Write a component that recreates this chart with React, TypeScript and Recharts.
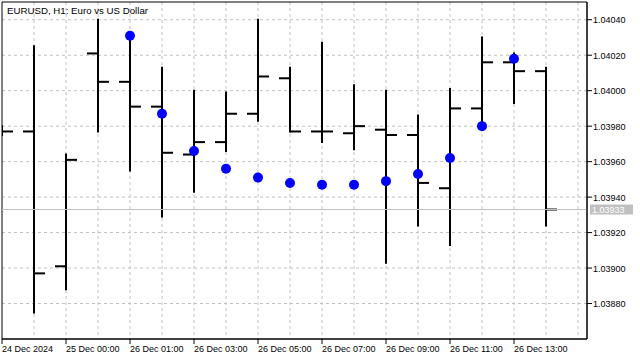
import { Bar, CartesianGrid, ComposedChart, Line, ReferenceArea, ReferenceLine, XAxis, YAxis } from "recharts"

// EURUSD H1 bars
const opens = [1.03977, 1.03977, 1.03901, 1.04021, 1.04005, 1.03991, 1.03964, 1.03971, 1.03987, 1.04007, 1.03977, 1.03976, 1.03978, 1.03975, 1.03945, 1.0399, 1.04016, 1.04011]
const highs = [1.0398, 1.04025, 1.03964, 1.0404, 1.04031, 1.04013, 1.04, 1.03999, 1.0404, 1.04013, 1.04027, 1.04003, 1.04, 1.03986, 1.04001, 1.0403, 1.04021, 1.04013]
const lows = [1.03975, 1.03875, 1.03888, 1.03977, 1.03955, 1.03929, 1.03943, 1.03966, 1.03983, 1.03977, 1.03971, 1.03967, 1.03903, 1.03924, 1.03913, 1.0398, 1.03993, 1.03924]
const closes = [1.03977, 1.03897, 1.03961, 1.04005, 1.03991, 1.03965, 1.03971, 1.03987, 1.04008, 1.03977, 1.03977, 1.0398, 1.03975, 1.03948, 1.0399, 1.04016, 1.04011, 1.03933]
const sar = [null, null, null, null, 1.04031, 1.03987, 1.03966, 1.03956, 1.03951, 1.03948, 1.03947, 1.03947, 1.03949, 1.03953, 1.03962, 1.0398, 1.04018, null]

const xTicks = [0, 2, 4, 6, 8, 10, 12, 14, 16]
const xLabels = ["24 Dec 2024", "25 Dec 00:00", "26 Dec 01:00", "26 Dec 03:00", "26 Dec 05:00", "26 Dec 07:00", "26 Dec 09:00", "26 Dec 11:00", "26 Dec 13:00"]
const yGrid = [1.0388, 1.039, 1.0392, 1.0394, 1.0396, 1.0398, 1.04, 1.0402, 1.0404]
const lastPrice = 1.03933

const X_MAX = 18.28125
const Y_MIN = 1.0386
const Y_MAX = 1.0405

const data = opens.map((o, i) => ({
    i,
    open: o,
    high: highs[i],
    low: lows[i],
    close: closes[i],
    range: [lows[i], highs[i]],
    sar: sar[i],
}))

const font = "'Liberation Sans', Arial, sans-serif"

function OhlcShape(props: any) {
    const { x, y, width, height, payload } = props
    const top = Math.min(y, y + height)
    const bottom = Math.max(y, y + height)
    const span = payload.high - payload.low || 1
    const at = (v: number) => top + ((payload.high - v) / span) * (bottom - top)
    const cx = x + width / 2
    return (
        <g stroke="#000" strokeWidth={2}>
            <line x1={cx} x2={cx} y1={top - 1} y2={bottom + 1} />
            <line x1={x} x2={cx} y1={at(payload.open)} y2={at(payload.open)} />
            <line x1={cx} x2={x + width} y1={at(payload.close)} y2={at(payload.close)} />
        </g>
    )
}

function XTick(props: any) {
    const { x, y, payload } = props
    const idx = xTicks.indexOf(payload.value)
    return (
        <g>
            <line x1={x} x2={x} y1={y} y2={y + 5} stroke="#000" />
            <text x={x} y={y + 13} fontSize={9} fontFamily={font} fill="#000" textAnchor="start">
                {xLabels[idx]}
            </text>
        </g>
    )
}

function YTick(props: any) {
    const { x, y, payload } = props
    if (payload.value === lastPrice) {
        return (
            <g>
                <rect x={x + 3} y={y - 5} width={43} height={10} fill="#c0c0c0" />
                <text x={x + 5} y={y + 3.5} fontSize={9} fontFamily={font} fill="#fff">
                    {payload.value.toFixed(5)}
                </text>
            </g>
        )
    }
    return (
        <g>
            <line x1={x} x2={x + 5} y1={y} y2={y} stroke="#000" />
            <text x={x + 6} y={y + 3.5} fontSize={9} fontFamily={font} fill="#000">
                {payload.value.toFixed(5)}
            </text>
        </g>
    )
}

export default function App() {
    return <>
        <style>{`body{margin:0}`}</style>
        <div style={{ position: "relative", width: 640, height: 360, background: "#fff" }}>
            <ComposedChart width={640} height={360} data={data} margin={{ top: 2, right: 0, bottom: 0, left: 2 }}>
                <CartesianGrid stroke="#c0c0c0" strokeDasharray="3 3" horizontalValues={yGrid} verticalValues={[1, 2, 3, 4, 5, 6, 7, 8, 9, 10, 11, 12, 13, 14, 15, 16, 17, 18]} />
                <XAxis dataKey="i" type="number" domain={[0, X_MAX]} ticks={xTicks} interval={0} height={21}
                    allowDataOverflow tickLine={false} tickSize={0} tickMargin={0} axisLine={{ stroke: "#000" }} tick={<XTick />} />
                <YAxis orientation="right" type="number" domain={[Y_MIN, Y_MAX]} ticks={[...yGrid, lastPrice]} interval={0} width={53}
                    allowDataOverflow tickLine={false} tickSize={0} tickMargin={0} axisLine={{ stroke: "#000" }} tick={<YTick />} />
                <ReferenceLine y={lastPrice} stroke="#c0c0c0" />
                <Bar dataKey="range" barSize={22} shape={<OhlcShape />} isAnimationActive={false} />
                <Line dataKey="sar" stroke="none" dot={{ r: 5, fill: "#0000ff", stroke: "none" }} activeDot={false} isAnimationActive={false} />
                <ReferenceArea x1={0} x2={X_MAX} y1={Y_MIN} y2={Y_MAX} fill="none" stroke="#000" ifOverflow="visible" />
            </ComposedChart>
            <svg width={640} height={20} style={{ position: "absolute", left: 0, top: 0, pointerEvents: "none" }}>
                <text x={7} y={13.5} fontSize={9.7} fontFamily={font} fill="#000">EURUSD, H1:  Euro vs US Dollar</text>
            </svg>
        </div>
    </>
}
